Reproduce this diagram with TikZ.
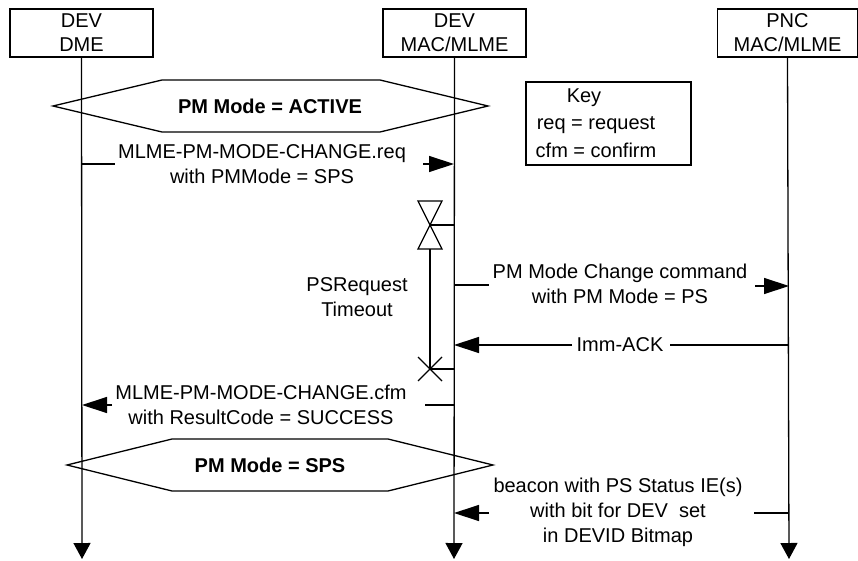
\documentclass[tikz,border=0pt]{standalone}
\usepackage{fontspec}
\setmainfont{Liberation Sans}
\usetikzlibrary{arrows.meta}
\begin{document}
\begin{tikzpicture}[x=1pt,y=-1pt,
  every node/.style={font=\fontsize{20}{25}\selectfont},
  lbl/.style={align=center, inner sep=0pt},
  hdr/.style={draw, line width=1.3pt, minimum width=143pt, minimum height=48pt, align=center, inner sep=0pt, font=\fontsize{20}{24}\selectfont},
  ln/.style={line width=1.3pt},
  msg/.style={ln, -{Triangle[length=25pt,width=16pt]}},
  life/.style={ln, -{Triangle[length=16pt,width=17pt]}},
  hexlbl/.style={inner sep=0pt, font=\fontsize{20}{24}\selectfont\bfseries},
]
\useasboundingbox (0,0) rectangle (858,561);

% headers
\node[hdr] (dme) at (81.5,33) {DEV\\DME};
\node[hdr] (mac) at (454.5,33) {DEV\\MAC/MLME};
\node[hdr, minimum width=140pt] (pnc) at (787.5,33) {PNC\\MAC/MLME};

% lifeline ends
\coordinate (dmeEnd) at (82,559);
\coordinate (macEnd) at (454,559);
\coordinate (pncEnd) at (789,559);
\draw[life] (dme.south) -- (dmeEnd);
\draw[life] (mac.south) -- (macEnd);
\draw[life] (pnc.south) -- (pncEnd);

% state hexagons
\draw[ln] (53,106) -- (162,80) -- (380,80) -- (488,106) -- (380,132) -- (162,132) -- cycle;
\node[hexlbl] (s1) at (270,106) {PM Mode = ACTIVE};
\draw[ln] (67,465) -- (172,439) -- (388,439) -- (493,465) -- (388,491) -- (172,491) -- cycle;
\node[hexlbl] (s2) at (270,465) {PM Mode = SPS};

% key
\node[draw, line width=1.3pt, minimum width=165pt, minimum height=83pt, inner sep=0pt] (key) at (608.5,123.5) {};
\node[lbl] (keyt) at (584,98) {Key};
\node[lbl] (keyr) at (596,125) {req = request};
\node[lbl] (keyc) at (596,150) {cfm = confirm};

% message 1: req
\node[lbl] (m1) at (262,164) {MLME-PM-MODE-CHANGE.req\\with PMMode = SPS};
\coordinate (m1a) at (82,164);
\coordinate (m1b) at (115,164);
\coordinate (m1c) at (423,164);
\coordinate (m1d) at (454,164);
\draw[ln] (m1a) -- (m1b);
\draw[msg] (m1c) -- (m1d);

% timer
\coordinate (t1) at (430,225);
\coordinate (t1m) at (454,225);
\coordinate (t2) at (430,369);
\coordinate (t2m) at (454,369);
\draw[ln] (418,201) -- (442,201) -- (418,249) -- (442,249) -- cycle;
\draw[ln] (t1) -- (t1m);
\draw[ln] (430,249) -- (t2);
\draw[ln] (418,357) -- (442,381) (418,381) -- (442,357);
\draw[ln] (t2) -- (t2m);
\node[lbl] (tl) at (357,297) {PSRequest\\Timeout};

% message 2: PM Mode Change command
\node[lbl] (m2) at (620,284) {PM Mode Change command\\with PM Mode = PS};
\coordinate (m2a) at (454,285);
\coordinate (m2b) at (489,285);
\coordinate (m2c) at (755,286);
\coordinate (m2d) at (789,286);
\draw[ln] (m2a) -- (m2b);
\draw[msg] (m2c) -- (m2d);

% message 3: Imm-ACK
\node[lbl] (m3) at (620,345) {Imm-ACK};
\coordinate (m3a) at (789,345);
\coordinate (m3b) at (670,345);
\coordinate (m3c) at (572,345);
\coordinate (m3d) at (454,345);
\draw[ln] (m3a) -- (m3b);
\draw[msg] (m3c) -- (m3d);

% message 4: cfm
\node[lbl] (m4) at (261,405) {MLME-PM-MODE-CHANGE.cfm\\with ResultCode = SUCCESS};
\coordinate (m4a) at (454,405);
\coordinate (m4b) at (425,405);
\coordinate (m4c) at (112,405);
\coordinate (m4d) at (82,405);
\draw[ln] (m4a) -- (m4b);
\draw[msg] (m4c) -- (m4d);

% message 5: beacon
\node[lbl] (m5) at (618,512) {beacon with PS Status IE(s)\\with bit for DEV\ \ set\\in DEVID Bitmap};
\coordinate (m5a) at (789,513);
\coordinate (m5b) at (754,513);
\coordinate (m5c) at (489,513);
\coordinate (m5d) at (454,513);
\draw[ln] (m5a) -- (m5b);
\draw[msg] (m5c) -- (m5d);
\end{tikzpicture}
\end{document}
